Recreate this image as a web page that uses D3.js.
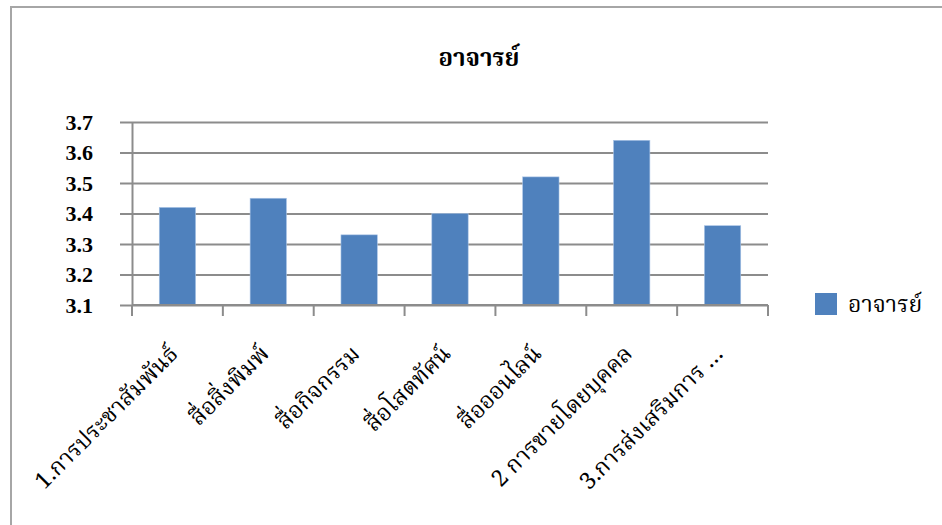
<!DOCTYPE html>
<html><head><meta charset="utf-8">
<script src="https://cdn.jsdelivr.net/npm/d3@7/dist/d3.min.js"></script>
<style>
html,body{margin:0;padding:0;background:#fff;}
svg{display:block;}
.thai{font-family:"Angsana New","TH Sarabun New","Noto Serif Thai","Noto Sans Thai","Loma","Garuda","Tlwg Typo","DejaVu Sans",sans-serif;}
</style>
</head><body>
<svg id="chart" width="942" height="525"></svg>
<script>
const title = "อาจารย์";
const seriesName = "อาจารย์";
const categories = ["1.การประชาสัมพันธ์","สื่อสิ่งพิมพ์","สื่อกิจกรรม","สื่อโสตทัศน์","สื่อออนไลน์","2 การขายโดยบุคคล","3.การส่งเสริมการ …"];
const values = [3.42, 3.45, 3.33, 3.40, 3.52, 3.64, 3.36];
const yTicks = [3.1, 3.2, 3.3, 3.4, 3.5, 3.6, 3.7];

const svg = d3.select("#chart");
const W = 942, H = 525;
const plot = {left: 132, right: 768, top: 122, bottom: 305};
const gridColor = "#8c8c8c";
const barColor = "#4f81bd";

// outer border
svg.append("rect").attr("x", 11).attr("y", 7).attr("width", W + 10).attr("height", H + 10)
  .attr("fill", "none").attr("stroke", "#a6a6a6").attr("stroke-width", 2);

const x = d3.scaleBand().domain(categories).range([plot.left, plot.right]).paddingInner(0.6).paddingOuter(0.3);
const y = d3.scaleLinear().domain([3.1, 3.7]).range([plot.bottom, plot.top]);

// gridlines + y axis
const yAxis = d3.axisLeft(y).tickValues(yTicks).tickSize(-(plot.right - plot.left)).tickSizeOuter(0).tickPadding(0).tickFormat(d3.format(".1f"));
const gy = svg.append("g").attr("transform", `translate(${plot.left},0)`).call(yAxis);
gy.select(".domain").attr("stroke", gridColor).attr("stroke-width", 2);
gy.selectAll(".tick line").attr("stroke", gridColor).attr("stroke-width", 2).attr("x1", -12);
gy.selectAll(".tick text").attr("x", -39).attr("dy", "0.32em")
  .attr("font-family", "'Liberation Serif','Times New Roman',serif").attr("font-weight", "bold")
  .attr("font-size", 22).attr("fill", "#000");

// bars
svg.append("g").selectAll("rect").data(values).join("rect")
  .attr("x", (d, i) => x(categories[i]))
  .attr("y", d => y(d))
  .attr("width", x.bandwidth())
  .attr("height", d => y(3.1) - y(d))
  .attr("fill", barColor)
  .attr("stroke", "#a9c4e6").attr("stroke-width", 0.6);

// x axis
const xTickPos = d3.range(categories.length + 1).map(i => plot.left + i * x.step());
const gx = svg.append("g");
gx.append("line").attr("x1", plot.left).attr("x2", plot.right).attr("y1", plot.bottom).attr("y2", plot.bottom)
  .attr("stroke", gridColor).attr("stroke-width", 2);
gx.selectAll("line.tk").data(xTickPos).join("line").attr("class", "tk")
  .attr("x1", d => d).attr("x2", d => d).attr("y1", plot.bottom).attr("y2", plot.bottom + 11)
  .attr("stroke", gridColor).attr("stroke-width", 2);
gx.selectAll("text").data(categories).join("text")
  .attr("class", "thai")
  .attr("text-anchor", "end")
  .attr("font-size", 23)
  .attr("fill", "#000")
  .attr("transform", d => `translate(${x(d) + x.bandwidth() / 2 + 2},${plot.bottom + 50}) rotate(-45)`)
  .text(d => d);

// title
svg.append("text").attr("class", "thai").attr("x", 479).attr("y", 66).attr("text-anchor", "middle")
  .attr("font-size", 24).attr("font-weight", "bold").attr("fill", "#000").text(title);

// legend
const lg = svg.append("g").attr("transform", "translate(815,293)");
lg.append("rect").attr("width", 22).attr("height", 22).attr("fill", barColor);
lg.append("text").attr("class", "thai").attr("x", 33).attr("y", 19).attr("font-size", 23).attr("fill", "#000").text(seriesName);
</script>
</body></html>
